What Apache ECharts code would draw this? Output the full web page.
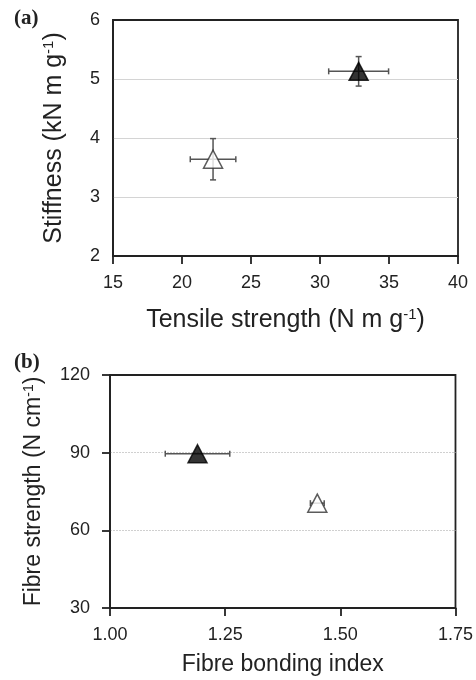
<!DOCTYPE html>
<html>
<head>
<meta charset="utf-8">
<script src="https://cdn.jsdelivr.net/npm/echarts@6/dist/echarts.min.js"></script>
<style>
html,body{margin:0;padding:0;background:#fff;}
#c{width:476px;height:680px;}
</style>
</head>
<body>
<div id="c"></div>
<script>
// Panel (a): tensile strength vs stiffness
const aTensile = [22.25, 32.8];
const aTensileErr = [1.65, 2.17];
const aStiffness = [3.64, 5.13];
const aStiffnessErr = [0.35, 0.25];
// Panel (b): fibre bonding index vs fibre strength
const bIndex = [1.45, 1.19];
const bIndexErr = [0.015, 0.07];
const bStrength = [70.5, 89.6];
const bStrengthErr = [0, 0];
// marker style per point: open, filled
const markerFill = ['#ffffff', '#000000'];
// tick labels
const aXTicks = [15, 20, 25, 30, 35, 40];
const aYTicks = [2, 3, 4, 5, 6];
const bXTicks = ['1.00', '1.25', '1.50', '1.75'];
const bYTicks = [30, 60, 90, 120];

const FONT = 'Liberation Sans, Arial, sans-serif';
const chart = echarts.init(document.getElementById('c'), null, {renderer: 'canvas'});

function errData(xs, xe, ys, ye) {
  return xs.map((x, i) => [x, ys[i], x - xe[i], x + xe[i], ys[i] - ye[i], ys[i] + ye[i]]);
}
function pointData(xs, ys) {
  return xs.map((x, i) => ({value: [x, ys[i]], itemStyle: {color: markerFill[i], borderColor: i === 0 ? '#333' : '#000', borderWidth: 1.5}}));
}
function errRender(params, api) {
  const x = api.value(0), y = api.value(1);
  const xl = api.value(2), xh = api.value(3), yl = api.value(4), yh = api.value(5);
  const st = {stroke: '#555', lineWidth: 1.5};
  const cap = 3;
  const children = [];
  if (xh > xl) {
    const p1 = api.coord([xl, y]), p2 = api.coord([xh, y]);
    children.push({type: 'line', shape: {x1: p1[0], y1: p1[1], x2: p2[0], y2: p2[1]}, style: st});
    children.push({type: 'line', shape: {x1: p1[0], y1: p1[1] - cap, x2: p1[0], y2: p1[1] + cap}, style: st});
    children.push({type: 'line', shape: {x1: p2[0], y1: p2[1] - cap, x2: p2[0], y2: p2[1] + cap}, style: st});
  }
  if (yh > yl) {
    const q1 = api.coord([x, yl]), q2 = api.coord([x, yh]);
    children.push({type: 'line', shape: {x1: q1[0], y1: q1[1], x2: q2[0], y2: q2[1]}, style: st});
    children.push({type: 'line', shape: {x1: q1[0] - cap, y1: q1[1], x2: q1[0] + cap, y2: q1[1]}, style: st});
    children.push({type: 'line', shape: {x1: q2[0] - cap, y1: q2[1], x2: q2[0] + cap, y2: q2[1]}, style: st});
  }
  return {type: 'group', children: children};
}

const axisLineStyle = {color: '#222', width: 1.8};
const tickLabel = {fontFamily: FONT, fontSize: 18, color: '#222'};
function nameStyle(size) {
  return {
    fontFamily: FONT, fontSize: size, color: '#222',
    rich: {
      n: {fontFamily: FONT, fontSize: size, color: '#222'},
      s: {fontFamily: FONT, fontSize: Math.round(size * 0.6), color: '#222', verticalAlign: 'top', padding: [0, 0, Math.round(size * 0.45), 0]}
    }
  };
}

const option = {
  backgroundColor: '#fff',
  animation: false,
  graphic: [
    {type: 'text', left: 14, top: 8, style: {text: '(a)', font: 'bold 21px "Liberation Serif", "Times New Roman", serif', fill: '#222'}},
    {type: 'text', left: 14, top: 352, style: {text: '(b)', font: 'bold 21px "Liberation Serif", "Times New Roman", serif', fill: '#222'}}
  ],
  grid: [
    {left: 113, top: 20, width: 345, height: 236, show: true, borderColor: '#222', borderWidth: 1.8, backgroundColor: 'transparent'},
    {left: 110, top: 375, width: 346, height: 233, show: true, borderColor: '#222', borderWidth: 1.8, backgroundColor: 'transparent'}
  ],
  xAxis: [
    {
      gridIndex: 0, type: 'value', min: 15, max: 40, interval: 5,
      axisLine: {lineStyle: axisLineStyle},
      axisTick: {show: true, inside: false, length: 8, lineStyle: {color: '#222', width: 1.8}},
      axisLabel: Object.assign({margin: 18, formatter: v => aXTicks.includes(v) ? String(v) : ''}, tickLabel),
      splitLine: {show: false},
      name: '{n|Tensile strength (N m g}{s|-1}{n|)}',
      nameLocation: 'middle', nameGap: 51, nameTextStyle: nameStyle(25)
    },
    {
      gridIndex: 1, type: 'value', min: 1.0, max: 1.75, interval: 0.25,
      axisLine: {lineStyle: axisLineStyle},
      axisTick: {show: true, inside: false, length: 8, lineStyle: {color: '#222', width: 1.8}},
      axisLabel: Object.assign({margin: 18, formatter: v => bXTicks[Math.round((v - 1) / 0.25)]}, tickLabel),
      splitLine: {show: false},
      name: 'Fibre bonding index',
      nameLocation: 'middle', nameGap: 45, nameTextStyle: {fontFamily: FONT, fontSize: 23, color: '#222'}
    }
  ],
  yAxis: [
    {
      gridIndex: 0, type: 'value', min: 2, max: 6, interval: 1,
      axisLine: {show: true, lineStyle: axisLineStyle},
      axisTick: {show: false},
      axisLabel: Object.assign({margin: 13, formatter: v => aYTicks.includes(v) ? String(v) : ''}, tickLabel),
      splitLine: {show: true, showMinLine: false, showMaxLine: false, lineStyle: {color: '#d4d4d4', width: 1.2}},
      name: '{n|Stiffness (kN m g}{s|-1}{n|)}',
      nameLocation: 'middle', nameRotate: 90, nameGap: 46, nameTextStyle: nameStyle(25)
    },
    {
      gridIndex: 1, type: 'value', min: 30, max: 120, interval: 30,
      axisLine: {show: true, lineStyle: axisLineStyle},
      axisTick: {show: true, inside: false, length: 8, lineStyle: {color: '#222', width: 1.8}},
      axisLabel: Object.assign({margin: 20, formatter: v => bYTicks.includes(v) ? String(v) : ''}, tickLabel),
      splitLine: {show: true, showMinLine: false, showMaxLine: false, lineStyle: {color: '#d0d0d0', width: 1.2, type: [2, 1]}},
      name: '{n|Fibre strength (N cm}{s|-1}{n|)}',
      nameLocation: 'middle', nameRotate: 90, nameGap: 64, nameTextStyle: nameStyle(23)
    }
  ],
  series: [
    {type: 'custom', xAxisIndex: 0, yAxisIndex: 0, renderItem: errRender,
     encode: {x: [0, 2, 3], y: [1, 4, 5]}, data: errData(aTensile, aTensileErr, aStiffness, aStiffnessErr), z: 2, silent: true},
    {type: 'scatter', xAxisIndex: 0, yAxisIndex: 0, symbol: 'triangle', symbolSize: [19, 18],
     data: pointData(aTensile, aStiffness), z: 3},
    {type: 'custom', xAxisIndex: 1, yAxisIndex: 1, renderItem: errRender,
     encode: {x: [0, 2, 3], y: [1, 4, 5]}, data: errData(bIndex, bIndexErr, bStrength, bStrengthErr), z: 2, silent: true},
    {type: 'scatter', xAxisIndex: 1, yAxisIndex: 1, symbol: 'triangle', symbolSize: [19, 18],
     data: pointData(bIndex, bStrength), z: 3}
  ]
};
chart.setOption(option);
</script>
</body>
</html>
